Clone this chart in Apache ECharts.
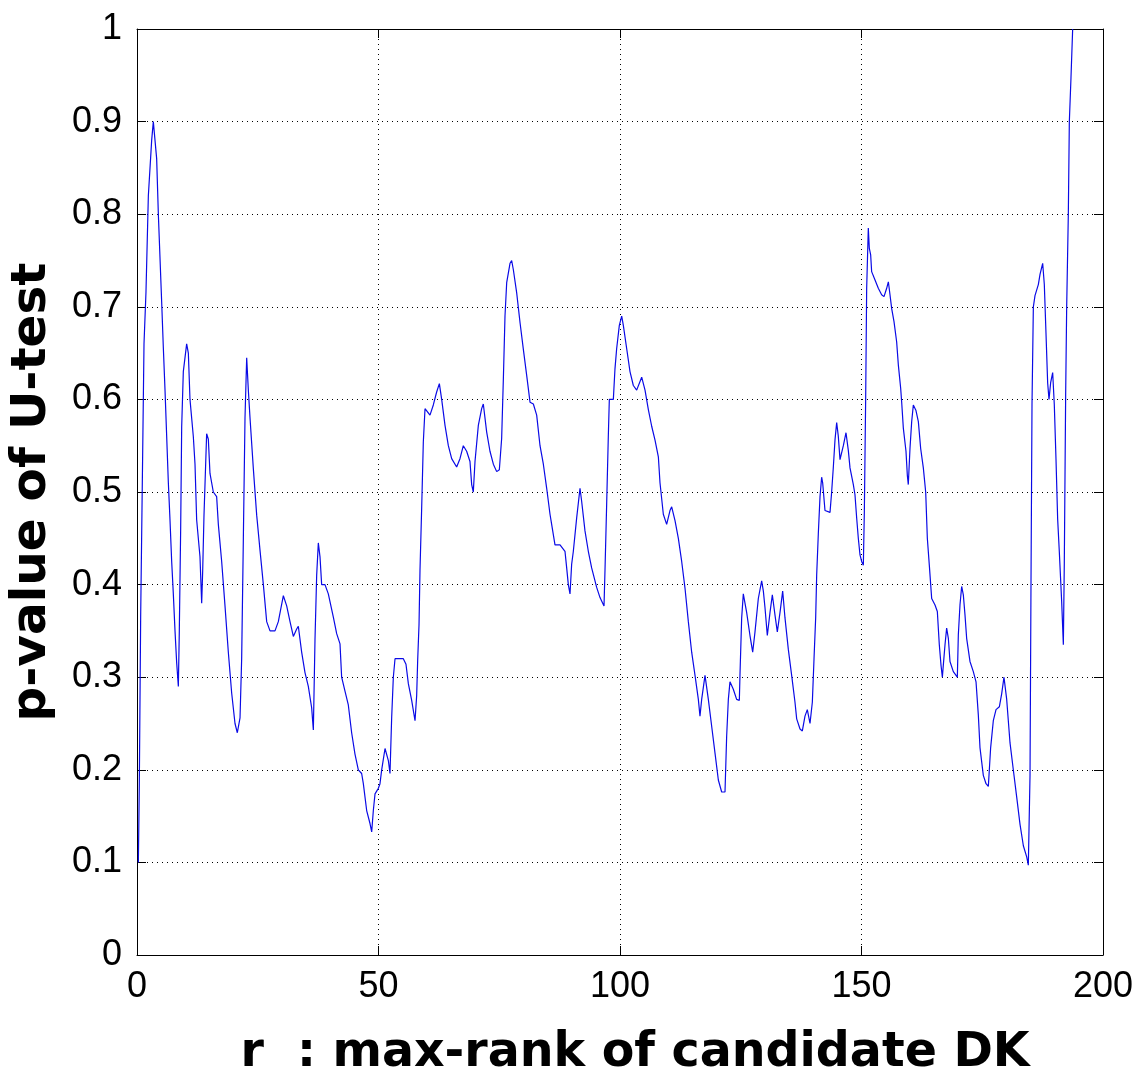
<!DOCTYPE html>
<html>
<head>
<meta charset="utf-8">
<script src="https://cdn.jsdelivr.net/npm/echarts@6/dist/echarts.min.js"></script>
<style>
  html, body { margin: 0; padding: 0; background: #fff; }
  #chart { width: 1144px; height: 1075px; }
</style>
</head>
<body>
<div id="chart"></div>
<script>
// x-axis: r (max-rank of candidate DK)
const rankValues = [
  0.28,0.48,0.76,1.17,1.45,1.86,2.35,3.04,3.38,4.07,
  4.42,5.11,5.45,5.80,6.49,6.83,7.18,7.52,7.87,8.21,
  8.56,8.76,9.04,9.25,9.59,10.28,10.63,10.97,11.66,12.01,
  12.35,13.04,13.39,13.60,13.87,14.42,14.77,15.11,15.80,16.49,
  16.84,17.53,18.22,18.91,19.60,20.29,20.77,21.33,21.67,22.02,
  22.36,22.71,23.05,23.40,24.09,24.78,25.47,26.16,26.85,27.54,
  28.57,29.26,30.30,30.99,31.68,32.37,33.06,33.40,34.09,34.78,
  35.47,36.16,36.51,36.85,37.20,37.54,37.89,38.23,38.92,39.61,
  39.96,40.65,41.34,42.03,42.37,43.06,43.75,44.44,45.13,45.82,
  46.51,46.86,47.55,48.24,48.59,48.93,49.28,49.97,50.31,50.66,
  51.35,52.04,52.38,52.73,53.07,53.42,54.11,55.14,55.69,56.18,
  56.87,57.56,57.90,58.11,58.39,58.59,58.94,
  59.28,59.63,60.66,61.35,62.04,62.60,63.08,63.77,64.46,65.15,
  66.18,66.87,67.56,68.25,68.94,69.29,69.63,69.98,70.67,71.36,
  71.70,72.39,73.08,73.78,74.47,75.02,75.50,75.85,76.19,76.54,
  77.23,77.57,77.92,78.61,79.30,79.99,80.68,81.37,82.06,82.75,
  83.44,84.13,84.82,85.51,85.85,86.54,87.58,88.61,88.96,89.30,
  89.65,89.99,90.34,91.03,91.72,92.06,92.75,93.44,94.13,95.17,
  95.86,96.69,
  96.89,97.24,97.58,97.79,98.62,98.96,99.31,99.86,100.35,100.69,
  101.38,102.07,102.76,103.45,104.49,105.18,105.87,106.56,107.25,107.94,
  108.28,108.97,109.66,110.35,110.70,111.39,112.08,112.77,113.46,114.15,
  114.84,115.53,116.22,116.56,116.91,117.60,118.29,118.98,119.67,120.36,
  121.05,121.74,122.08,122.43,122.77,123.46,124.15,124.71,124.84,125.19,
  125.53,126.22,126.91,127.47,127.95,128.64,129.33,129.68,130.02,130.50,
  131.06,131.54,132.09,132.57,133.13,133.68,134.16,134.85,135.54,136.23,
  136.58,137.27,137.75,138.30,138.78,139.34,139.82,140.17,140.51,140.72,
  141.06,141.41,141.75,141.96,142.44,143.48,143.82,144.17,144.51,144.86,
  145.20,145.55,146.24,146.79,147.27,
  147.62,148.31,148.65,149.00,149.34,149.69,150.03,150.38,150.59,150.86,
  151.07,151.41,151.62,151.90,152.10,152.80,153.48,154.17,154.66,155.21,
  155.56,155.90,156.25,156.73,157.28,157.63,158.11,158.32,158.66,159.21,
  159.49,159.69,160.04,160.39,160.73,161.28,161.77,162.25,162.80,163.29,
  163.63,164.04,164.53,165.22,165.70,166.11,166.46,166.74,166.94,167.29,
  167.63,167.98,168.32,169.01,169.84,170.05,170.39,170.74,171.08,171.43,
  171.77,172.46,173.15,173.71,
  174.19,174.53,175.22,175.78,176.26,176.74,177.29,177.85,178.54,179.02,
  179.50,180.06,180.75,181.43,182.12,182.82,183.51,184.20,184.54,184.89,
  185.09,185.30,185.58,185.92,186.61,186.96,187.51,187.85,188.20,188.54,
  188.82,189.16,189.58,189.92,190.27,190.61,190.96,191.44,191.79,191.99,
  192.27,192.48,192.82,193.03,193.37,193.72
];

// y-axis: p-value of U-test (same order as rankValues)
const pValues = [
  0.10,0.185,0.366,0.54,0.66,0.716,0.82,0.88,0.90,0.86,
  0.80,0.705,0.656,0.61,0.51,0.47,0.425,0.39,0.35,0.316,
  0.29,0.35,0.46,0.57,0.63,0.66,0.65,0.60,0.56,0.53,
  0.47,0.43,0.38,0.415,0.475,0.563,0.557,0.52,0.50,0.495,
  0.465,0.425,0.377,0.327,0.283,0.25,0.24,0.256,0.32,0.45,
  0.58,0.645,0.61,0.58,0.525,0.475,0.437,0.40,0.36,0.35,
  0.35,0.36,0.388,0.377,0.36,0.344,0.352,0.355,0.327,0.305,
  0.29,0.267,0.243,0.34,0.41,0.445,0.43,0.40,0.40,0.39,
  0.39,0.365,0.347,0.336,0.30,0.285,0.27,0.24,0.217,0.20,
  0.196,0.185,0.156,0.142,0.133,0.156,0.174,0.18,0.185,0.20,
  0.223,0.21,0.196,0.257,0.30,0.32,0.32,0.32,0.314,0.293,
  0.275,0.253,0.28,0.318,0.357,0.415,0.483,
  0.554,0.59,0.583,0.594,0.608,0.617,0.60,0.572,0.55,0.536,
  0.527,0.536,0.55,0.544,0.533,0.508,0.50,0.533,0.572,0.59,
  0.595,0.565,0.544,0.53,0.522,0.524,0.558,0.622,0.69,0.726,
  0.747,0.75,0.74,0.715,0.683,0.654,0.626,0.597,0.595,0.583,
  0.55,0.53,0.504,0.476,0.465,0.443,0.443,0.436,0.418,0.40,
  0.39,0.422,0.436,0.472,0.504,0.49,0.458,0.436,0.418,0.397,
  0.386,0.377,
  0.415,0.487,0.56,0.60,0.60,0.633,0.655,0.68,0.69,0.68,
  0.655,0.63,0.615,0.61,0.624,0.61,0.589,0.571,0.556,0.538,
  0.51,0.476,0.465,0.48,0.484,0.469,0.45,0.425,0.396,0.36,
  0.327,0.302,0.276,0.258,0.276,0.302,0.276,0.247,0.218,0.189,
  0.176,0.176,0.236,0.276,0.295,0.287,0.276,0.275,0.302,0.364,
  0.39,0.37,0.345,0.327,0.349,0.385,0.404,0.393,0.375,0.345,
  0.37,0.389,0.367,0.349,0.37,0.393,0.364,0.33,0.302,0.273,
  0.255,0.244,0.242,0.258,0.265,0.25,0.273,0.32,0.364,0.41,
  0.455,0.495,0.516,0.51,0.48,0.478,0.50,0.527,0.556,0.575,
  0.56,0.535,0.55,0.564,0.545,
  0.526,0.508,0.497,0.472,0.45,0.432,0.425,0.421,0.479,0.60,
  0.72,0.785,0.763,0.756,0.738,0.729,0.72,0.713,0.711,0.72,
  0.727,0.713,0.698,0.684,0.662,0.637,0.612,0.597,0.569,0.544,
  0.518,0.508,0.547,0.576,0.594,0.588,0.576,0.547,0.526,0.50,
  0.45,0.421,0.385,0.378,0.371,0.335,0.313,0.30,0.313,0.335,
  0.353,0.342,0.317,0.306,0.30,0.346,0.378,0.398,0.389,0.367,
  0.342,0.317,0.306,0.295,
  0.259,0.224,0.194,0.185,0.182,0.224,0.253,0.265,0.268,0.282,
  0.30,0.276,0.229,0.20,0.171,0.141,0.118,0.106,0.097,0.194,
  0.40,0.594,0.70,0.712,0.724,0.735,0.747,0.724,0.671,0.618,
  0.60,0.618,0.629,0.594,0.535,0.471,0.435,0.382,0.335,0.424,
  0.606,0.70,0.80,0.90,0.947,1.0
];

const xTicks = [0, 50, 100, 150, 200];
const yTicks = [0, 0.1, 0.2, 0.3, 0.4, 0.5, 0.6, 0.7, 0.8, 0.9, 1];
const xTitle = 'r  : max-rank of candidate DK';
const yTitle = 'p-value of U-test';

const seriesData = rankValues.map((r, i) => [r, pValues[i]]);

const tickFont = { color: '#000', fontSize: 36, fontFamily: 'Liberation Sans, Arial, sans-serif' };
const frameLine = { show: true, onZero: false, lineStyle: { color: '#000', width: 1 } };
const ticks = { show: true, inside: true, length: 9, lineStyle: { color: '#000', width: 1 } };
const gridDots = { show: true, lineStyle: { color: '#000', width: 1, type: [1, 4] } };

const chart = echarts.init(document.getElementById('chart'), null, { renderer: 'canvas' });
chart.setOption({
  backgroundColor: '#fff',
  animation: false,
  grid: { left: 137, right: 41, top: 29, bottom: 120, containLabel: false, outerBoundsMode: 'none' },
  xAxis: [
    {
      type: 'value', position: 'bottom', min: xTicks[0], max: xTicks[xTicks.length - 1], interval: 50,
      axisLine: frameLine, axisTick: ticks, splitLine: gridDots,
      axisLabel: Object.assign({ margin: 14 }, tickFont),
      name: xTitle, nameLocation: 'middle', nameGap: 75,
      nameTextStyle: { color: '#000', fontSize: 47.5, fontWeight: 'bold', fontFamily: 'DejaVu Sans, sans-serif', padding: [0, 0, 0, 30] }
    },
    {
      type: 'value', position: 'top', min: xTicks[0], max: xTicks[xTicks.length - 1], interval: 50,
      axisLine: frameLine, axisTick: ticks, splitLine: { show: false }, axisLabel: { show: false }
    }
  ],
  yAxis: [
    {
      type: 'value', position: 'left', min: yTicks[0], max: yTicks[yTicks.length - 1], interval: 0.1,
      axisLine: frameLine, axisTick: ticks, splitLine: gridDots,
      axisLabel: Object.assign({ margin: 15 }, tickFont),
      name: yTitle, nameLocation: 'middle', nameGap: 80, nameRotate: 90,
      nameTextStyle: { color: '#000', fontSize: 48.5, fontWeight: 'bold', fontFamily: 'DejaVu Sans, sans-serif' }
    },
    {
      type: 'value', position: 'right', min: yTicks[0], max: yTicks[yTicks.length - 1], interval: 0.1,
      axisLine: frameLine, axisTick: ticks, splitLine: { show: false }, axisLabel: { show: false }
    }
  ],
  series: [
    {
      type: 'line', xAxisIndex: 0, yAxisIndex: 0,
      data: seriesData, showSymbol: false, symbol: 'none', clip: true,
      lineStyle: { color: '#0a0ae6', width: 1.2 }
    }
  ]
});
</script>
</body>
</html>
